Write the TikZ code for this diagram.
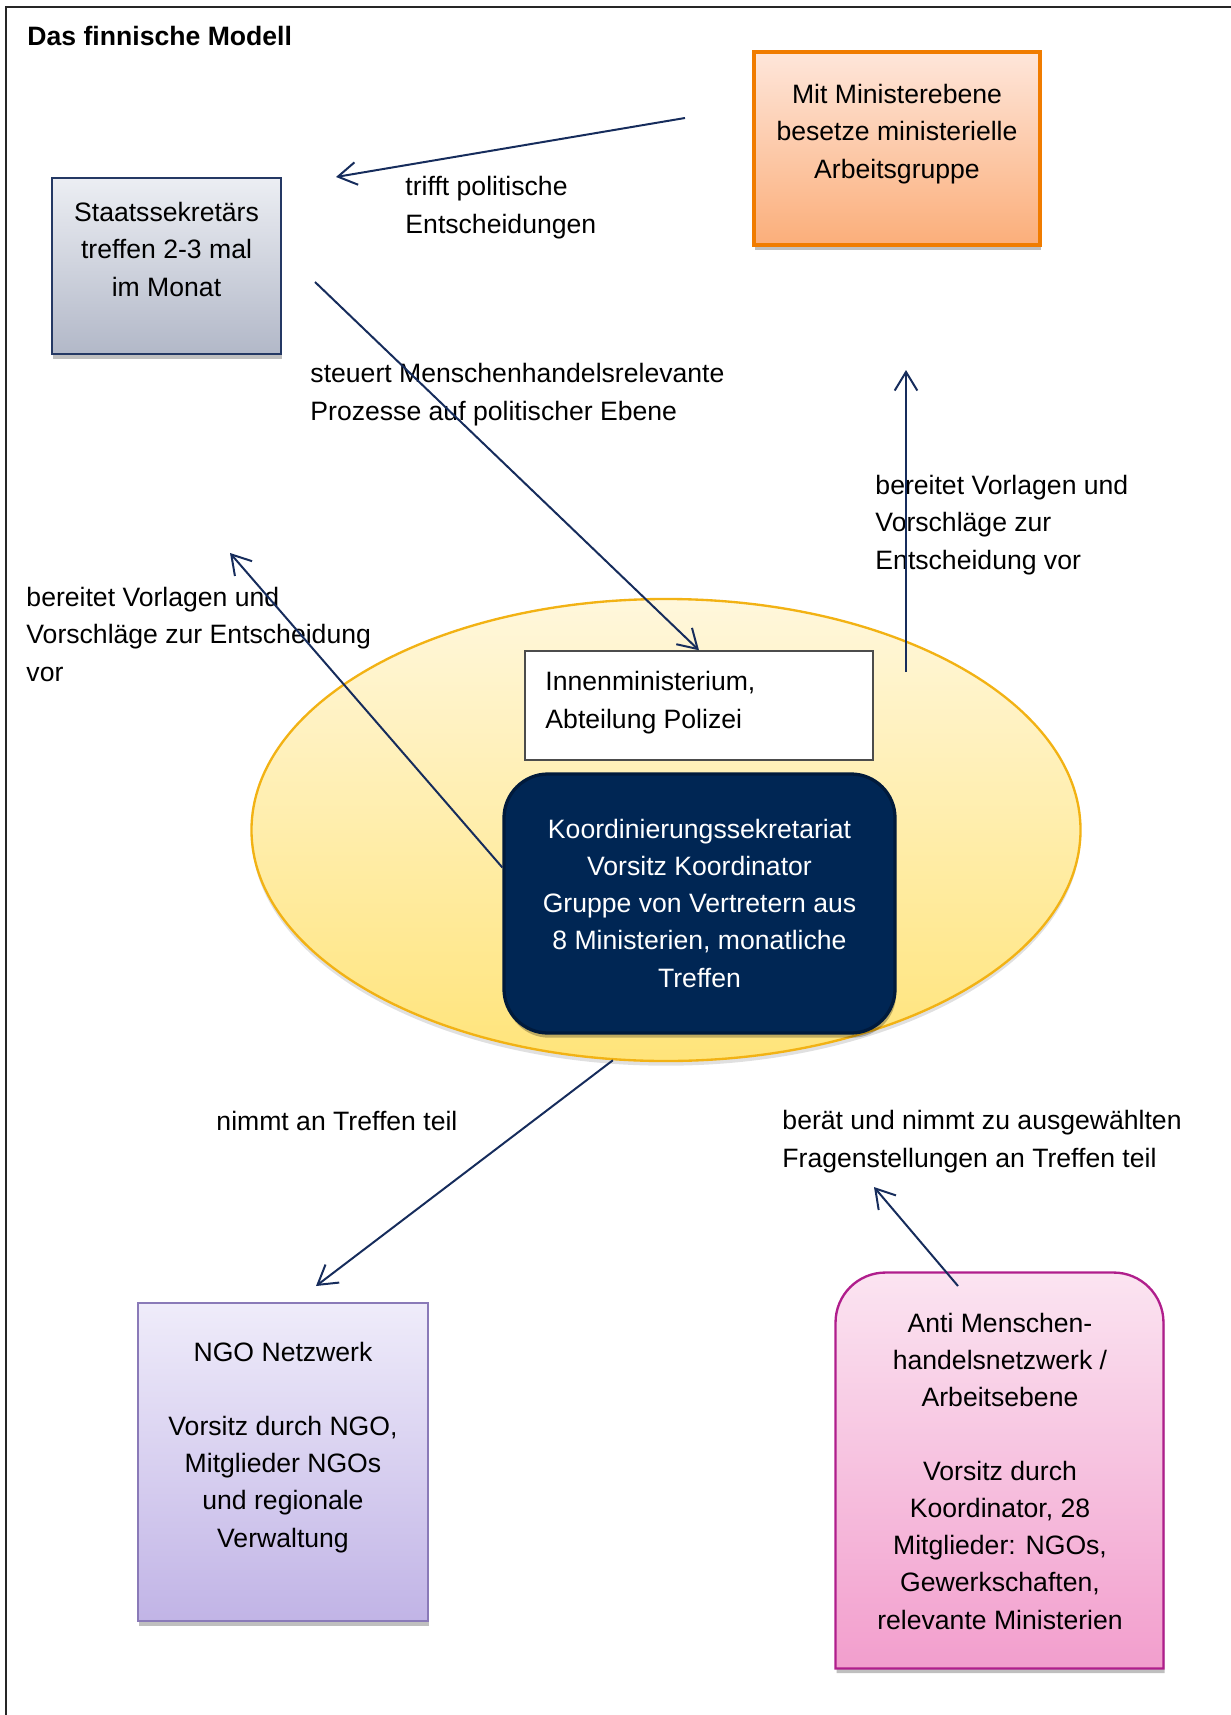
\documentclass[tikz,border=0pt]{standalone}
\usepackage{fontspec}
\setmainfont{Liberation Sans}
\usetikzlibrary{arrows.meta,shapes.geometric,shadows}

\definecolor{pfeilblau}{RGB}{22,44,92}
\definecolor{staatsoben}{RGB}{236,238,243}
\definecolor{staatsunten}{RGB}{178,184,200}
\definecolor{staatsrand}{RGB}{36,56,100}
\definecolor{orangeoben}{RGB}{254,230,218}
\definecolor{orangeunten}{RGB}{251,174,122}
\definecolor{orangerand}{RGB}{240,124,0}
\definecolor{ellipseoben}{RGB}{255,247,220}
\definecolor{ellipseunten}{RGB}{255,228,122}
\definecolor{ellipsenrand}{RGB}{242,178,20}
\definecolor{koordblau}{RGB}{0,38,84}
\definecolor{koordrand}{RGB}{0,26,60}
\definecolor{ngooben}{RGB}{239,236,250}
\definecolor{ngounten}{RGB}{193,180,230}
\definecolor{ngorand}{RGB}{138,122,184}
\definecolor{antioben}{RGB}{251,228,241}
\definecolor{antiunten}{RGB}{242,158,205}
\definecolor{antirand}{RGB}{176,30,140}

\tikzset{
    pfeil/.style={draw=pfeilblau, line width=0.85pt, -{Straight Barb[length=0.28cm,width=0.34cm]}},
    schatten/.style={drop shadow={opacity=0.25, fill=black, shadow xshift=0.5pt, shadow yshift=-2pt}},
    kasten/.style={draw, line width=1pt, inner sep=0pt, schatten},
    txt/.style={font=\fontsize{11.35}{15.8}\selectfont, inner sep=0pt, align=center, anchor=base},
    beschr/.style={font=\fontsize{11.35}{15.8}\selectfont, inner sep=0pt, align=left, anchor=base west}
}

\begin{document}
\begin{tikzpicture}[x=0.015cm,y=-0.015cm]
        \useasboundingbox (0,0) rectangle (1231,1715);
        \draw[line width=0.9pt, black!85] (6,1716) |- (1232,7);
        \node[beschr, font=\bfseries\fontsize{11.35}{15.8}\selectfont] (titel) at (27,46) {Das finnische Modell};

        \node[ellipse, draw=ellipsenrand, line width=1pt, top color=ellipseoben, bottom color=ellipseunten,
            minimum width=12.435cm, minimum height=6.93cm, inner sep=0pt,
            drop shadow={opacity=0.12, fill=black, shadow xshift=0pt, shadow yshift=-2pt}] (kreis) at (666,830) {};

        \node[kasten, draw=staatsrand, top color=staatsoben, bottom color=staatsunten,
            minimum width=3.435cm, minimum height=2.64cm] (staats) at (166.5,266) {};
        \node[txt] (staats-t) at (166.5,296) {Staatssekretärs\\treffen 2-3 mal\\im Monat};

        \node[kasten, draw=orangerand, line width=1.4pt, top color=orangeoben, bottom color=orangeunten,
            minimum width=4.29cm, minimum height=2.895cm] (orange) at (897,148.5) {};
        \node[txt] (orange-t) at (897,178) {Mit Ministerebene\\besetze ministerielle\\Arbeitsgruppe};

        \node[draw=black!70, line width=0.6pt, fill=white, inner sep=0pt,
            minimum width=5.22cm, minimum height=1.635cm] (innen) at (699,705.5) {};
        \node[beschr] (innen-t) at (545,728) {Innenministerium,\\Abteilung Polizei};

        \node[kasten, draw=koordrand, line width=1.4pt, fill=koordblau, rounded corners=0.66cm,
            minimum width=5.865cm, minimum height=3.885cm] (koord) at (699.5,903.5) {};
        \node[txt, text=white] (koord-t) at (699.5,987) {Koordinierungssekretariat\\Vorsitz Koordinator\\Gruppe von Vertretern aus\\8 Ministerien, monatliche\\Treffen};

        \node[kasten, draw=ngorand, top color=ngooben, bottom color=ngounten,
            minimum width=4.35cm, minimum height=4.77cm] (ngo) at (283,1462) {};
        \node[txt] (ngo-t) at (283,1547) {NGO Netzwerk\\[15.8pt]Vorsitz durch NGO,\\Mitglieder NGOs\\und regionale\\Verwaltung};

        \node[inner sep=0pt, minimum width=4.905cm, minimum height=5.925cm] (anti) at (999.5,1470.5) {};
        \path[draw=antirand, line width=1pt, top color=antioben, bottom color=antiunten, schatten]
            (anti.south west) [rounded corners=0.75cm] -- (anti.north west) -- (anti.north east) -- (anti.east)
            [sharp corners] -- (anti.south east) -- cycle;
        \node[txt] (anti-t) at (1000,1629) {Anti Menschen-\\handelsnetzwerk /\\Arbeitsebene\\[15.8pt]Vorsitz durch\\Koordinator, 28\\Mitglieder: NGOs,\\Gewerkschaften,\\relevante Ministerien};

        \node[beschr] (trifft) at (405,233) {trifft politische\\Entscheidungen};
        \node[beschr] (steuert) at (310,420) {steuert Menschenhandelsrelevante\\Prozesse auf politischer Ebene};
        \node[beschr] (vorlagen-r) at (875,569) {bereitet Vorlagen und\\Vorschläge zur\\Entscheidung vor};
        \node[beschr] (vorlagen-l) at (26,681) {bereitet Vorlagen und\\Vorschläge zur Entscheidung\\vor};
        \node[beschr] (nimmt) at (216,1130) {nimmt an Treffen teil};
        \node[beschr] (beraet) at (782,1167) {berät und nimmt zu ausgewählten\\Fragenstellungen an Treffen teil};

        \coordinate (trifft-a) at (685,118);
        \coordinate (trifft-b) at (336,177);
        \coordinate (steuert-a) at (315,282);
        \coordinate (links-b) at (230,553);
        \coordinate (rechts-a) at (906,672);
        \coordinate (rechts-b) at (906,370);
        \coordinate (nimmt-b) at (316,1286);
        \coordinate (beraet-a) at (958,1286);
        \coordinate (beraet-b) at (874,1187);

        \draw[pfeil] (trifft-a) -- (trifft-b);
        \draw[pfeil] (steuert-a) -- (innen.north);
        \draw[pfeil] ([yshift=0.54cm]koord.west) -- (links-b);
        \draw[pfeil] (rechts-a) -- (rechts-b);
        \draw[pfeil] (kreis.257) -- (nimmt-b);
        \draw[pfeil] (beraet-a) -- (beraet-b);
    \end{tikzpicture}
\end{document}
